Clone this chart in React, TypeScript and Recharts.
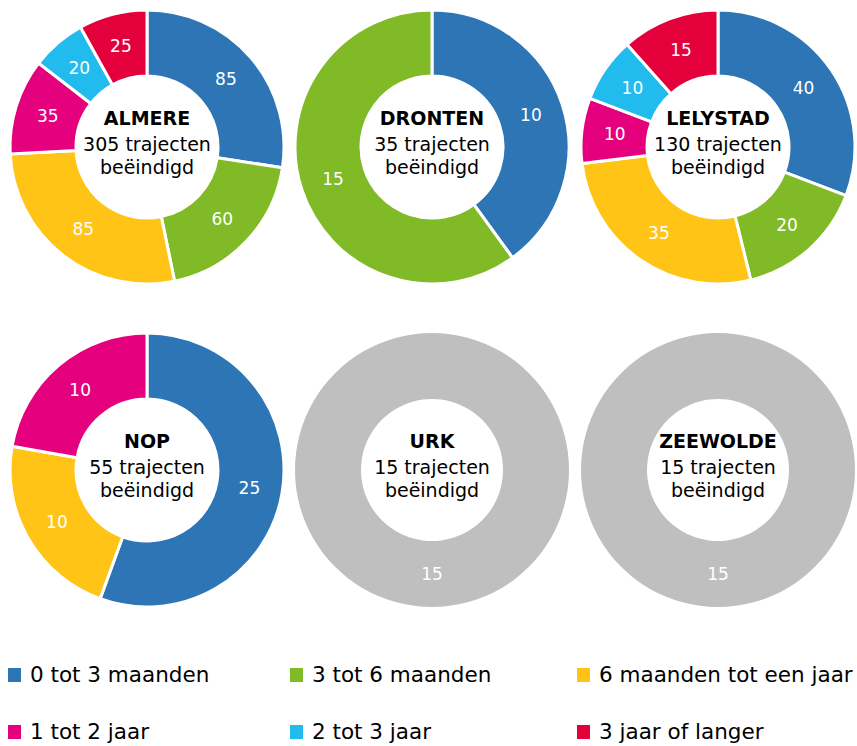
import React from "react";
import { PieChart, Pie, Cell, Label } from "recharts";

const categories = [
  "0 tot 3 maanden",
  "3 tot 6 maanden",
  "6 maanden tot een jaar",
  "1 tot 2 jaar",
  "2 tot 3 jaar",
  "3 jaar of langer",
];
const colors = ["#2E75B6", "#80BA27", "#FFC416", "#E5007D", "#21BBEE", "#E4003B"];
const grayColor = "#BFBFBF";

const municipalities = ["ALMERE", "DRONTEN", "LELYSTAD", "NOP", "URK", "ZEEWOLDE"];
const totals = [305, 35, 130, 55, 15, 15];

// values per category (null = not present)
const almere = [85, 60, 85, 35, 20, 25];
const dronten = [10, 15, null, null, null, null];
const lelystad = [40, 20, 35, 10, 10, 15];
const nop = [25, null, 10, 10, null, null];
const urk = [15];
const zeewolde = [15];

const seriesValues: (number | null)[][] = [almere, dronten, lelystad, nop, urk, zeewolde];
const isGray = [false, false, false, false, true, true];

const FONT = "'DejaVu Sans', Verdana, sans-serif";
const RADIAN = Math.PI / 180;

const centersX = [147, 432, 718];
const centersY = [147, 470];
const SIZE = 290;
const OUTER = 137;
const INNER = 71;

const sliceLabel = (props: any) => {
  const { cx, cy, midAngle, innerRadius, outerRadius, value } = props;
  const r = (innerRadius + outerRadius) / 2;
  const x = cx + r * Math.cos(-midAngle * RADIAN);
  const y = cy + r * Math.sin(-midAngle * RADIAN);
  return (
    <text
      x={x}
      y={y}
      fill="#FFFFFF"
      textAnchor="middle"
      dominantBaseline="central"
      fontSize={17}
      fontFamily={FONT}
    >
      {value}
    </text>
  );
};

const makeCenter = (name: string, total: number) => (props: any) => {
  const vb = props.viewBox || {};
  const cx = vb.cx ?? SIZE / 2;
  const cy = vb.cy ?? SIZE / 2;
  return (
    <g fontFamily={FONT} textAnchor="middle" fill="#000">
      <text x={cx} y={cy - 22} fontSize={19} fontWeight="bold" textAnchor="middle">
        {name}
      </text>
      <text x={cx} y={cy + 4} fontSize={19} textAnchor="middle">
        {`${total} trajecten`}
      </text>
      <text x={cx} y={cy + 27} fontSize={19} textAnchor="middle">
        beëindigd
      </text>
    </g>
  );
};

function Donut({ index }: { index: number }) {
  const vals = seriesValues[index];
  const gray = isGray[index];
  const data = vals
    .map((v, i) => ({ name: gray ? "totaal" : categories[i], value: v, color: gray ? grayColor : colors[i] }))
    .filter((d) => d.value !== null && d.value !== undefined);
  const col = index % 3;
  const row = Math.floor(index / 3);
  return (
    <div
      style={{
        position: "absolute",
        left: centersX[col] - SIZE / 2,
        top: centersY[row] - SIZE / 2,
        width: SIZE,
        height: SIZE,
      }}
    >
      <PieChart width={SIZE} height={SIZE} margin={{ top: 0, right: 0, bottom: 0, left: 0 }}>
        <Pie
          data={data}
          dataKey="value"
          nameKey="name"
          cx={SIZE / 2}
          cy={SIZE / 2}
          outerRadius={OUTER}
          innerRadius={INNER}
          startAngle={90}
          endAngle={-270}
          stroke="#FFFFFF"
          strokeWidth={gray ? 0 : 3}
          label={sliceLabel}
          labelLine={false}
          isAnimationActive={false}
        >
          {data.map((d, i) => (
            <Cell key={i} fill={d.color} />
          ))}
          <Label position="center" content={makeCenter(municipalities[index], totals[index])} />
        </Pie>
      </PieChart>
    </div>
  );
}

const legendX = [8, 290, 577];
const legendY = [668, 725];

export default function App() {
  return (
    <div
      style={{
        position: "absolute",
        left: 0,
        top: 0,
        width: 857,
        height: 746,
        background: "#FFFFFF",
        overflow: "hidden",
        fontFamily: FONT,
      }}
    >
      {municipalities.map((_, i) => (
        <Donut key={i} index={i} />
      ))}
      {categories.map((c, i) => {
        const col = i % 3;
        const row = Math.floor(i / 3);
        return (
          <div
            key={c}
            style={{
              position: "absolute",
              left: legendX[col],
              top: legendY[row] - 5,
              height: 24,
              display: "flex",
              alignItems: "center",
              whiteSpace: "nowrap",
            }}
          >
            <span
              style={{
                display: "inline-block",
                width: 13,
                height: 14,
                background: colors[i],
                marginRight: 9,
              }}
            />
            <span style={{ fontSize: 21.5, color: "#000", lineHeight: "24px" }}>{c}</span>
          </div>
        );
      })}
    </div>
  );
}
